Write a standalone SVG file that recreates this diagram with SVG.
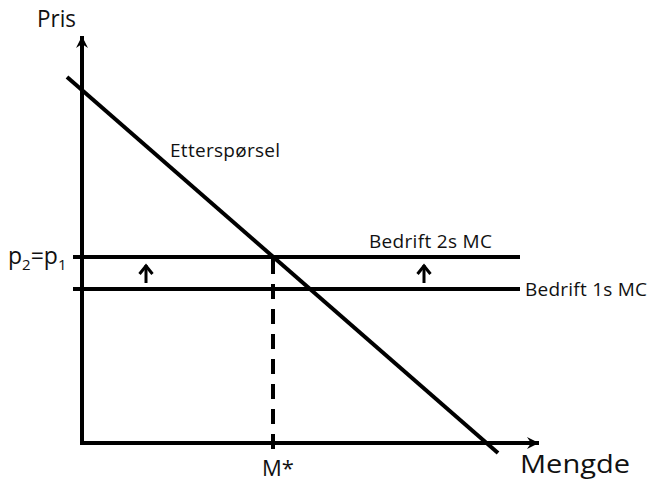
<svg xmlns="http://www.w3.org/2000/svg" width="652" height="481" viewBox="0 0 652 481">
<style>
.ln{stroke:#000;stroke-width:4;fill:none}
.t{font-family:"Open Sans","Liberation Sans",sans-serif;fill:#111}
</style>
<defs>
<marker id="ah" markerWidth="16" markerHeight="14" refX="13" refY="7" orient="auto" markerUnits="userSpaceOnUse">
<path d="M1,1 L13,7 L1,13 L5,7 z" fill="#000"/>
</marker>
<marker id="sa" markerWidth="14" markerHeight="16" refX="11" refY="8" orient="auto" markerUnits="userSpaceOnUse">
<path d="M2,1.5 L10,8 L2,14.5" fill="none" stroke="#000" stroke-width="3"/>
</marker>
</defs>
<g id="axes">
<line class="ln" x1="82" y1="445" x2="82" y2="36" marker-end="url(#ah)"/>
<line class="ln" x1="80" y1="443" x2="539" y2="443" marker-end="url(#ah)"/>
<text class="t" x="37" y="27" font-size="23" textLength="39" lengthAdjust="spacingAndGlyphs">Pris</text>
<text class="t" x="520" y="473" font-size="26" textLength="110" lengthAdjust="spacingAndGlyphs">Mengde</text>
</g>
<g id="demand">
<line class="ln" x1="67" y1="77" x2="498" y2="453"/>
<text class="t" x="170" y="157" font-size="19" textLength="110">Etterspørsel</text>
</g>
<g id="mc2">
<line class="ln" x1="73" y1="257" x2="520" y2="257"/>
<text class="t" x="369" y="248" font-size="19" textLength="123">Bedrift 2s MC</text>
</g>
<g id="mc1">
<line class="ln" x1="73" y1="289" x2="520" y2="289"/>
<text class="t" x="525" y="296" font-size="19" textLength="122">Bedrift 1s MC</text>
</g>
<g id="labels">
<text class="t" x="8" y="264" font-size="23">p<tspan font-size="15" dy="6">2</tspan><tspan dy="-6">=p</tspan><tspan font-size="15" dy="6">1</tspan></text>
<text class="t" x="262" y="476" font-size="22">M*</text>
</g>
<g id="connectors">
<line class="ln" x1="273" y1="259" x2="273" y2="453" stroke-dasharray="15 10"/>
<line x1="146" y1="283" x2="146" y2="265" stroke="#000" stroke-width="3" marker-end="url(#sa)"/>
<line x1="424" y1="283" x2="424" y2="265" stroke="#000" stroke-width="3" marker-end="url(#sa)"/>
</g>
</svg>
